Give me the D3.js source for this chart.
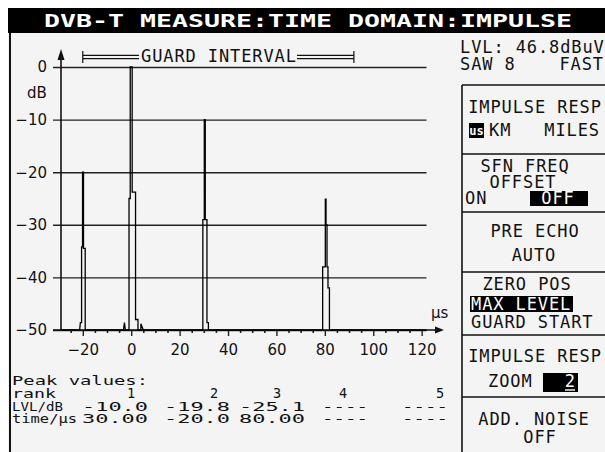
<!DOCTYPE html>
<html>
<head>
<meta charset="utf-8">
<title>DVB-T impulse</title>
<script src="https://d3js.org/d3.v7.min.js"></script>
<style>
  body { margin: 0; background: #fff; }
  svg text { font-family: "DejaVu Sans Mono", monospace; fill: #111; }
</style>
</head>
<body>
<script>
// impulse response trace (time in us, level in dB)
const traceTime = [-29, -21.3, -21.0, -20.5, -20.5, -20.1, -20.1, -19.7, -19.7, -19.0, -19.0,
  -3.2, -2.8, -2.4, -0.9, -0.9, -0.4, -0.4, 0.4, 0.4, 1.8, 1.8, 2.8, 2.8, 4.0, 4.0, 5.0,
  29.6, 29.6, 30.2, 30.2, 30.6, 30.6, 31.3, 31.3, 31.9, 31.9,
  79.1, 79.1, 80.2, 80.2, 80.5, 80.5, 80.9, 80.9, 81.3, 81.3, 81.9, 81.9, 122];
const traceLevel = [-50, -50, -48.6, -48.6, -34.2, -34.2, -20, -20, -34.5, -34.5, -50,
  -50, -48.6, -50, -50, -25, -25, 0, 0, -23.8, -23.8, -48, -48, -50, -50, -48.8, -50,
  -50, -29, -29, -10, -10, -29, -29, -48.6, -48.6, -50,
  -50, -38, -38, -25.1, -25.1, -30, -30, -38, -38, -42, -42, -50, -50];

const yTicks = [0, -10, -20, -30, -40, -50];
const xTicks = [-20, 0, 20, 40, 60, 80, 100, 120];
const xMinorTicks = [-25, -15, -10, -5, 5, 10, 15, 25, 30, 35, 45, 50, 55, 65, 70, 75, 85, 90, 95, 105, 110, 115];
const guardInterval = [-20, 92];

// peak value table
const peakRank = ["1", "2", "3", "4", "5"];
const peakLevel = ["-10.0", "-19.8", "-25.1", "----", "----"];
const peakTime = ["30.00", "-20.0", "80.00", "----", "----"];

const svg = d3.select("body").append("svg")
    .attr("width", 605)
    .attr("height", 452);

svg.append("rect").attr("x", 8).attr("y", 8).attr("width", 597).attr("height", 444).attr("fill", "#f4f4f4");

// title bar
svg.append("rect").attr("x", 8).attr("y", 8).attr("width", 597).attr("height", 25).attr("fill", "#000");
svg.append("text")
    .attr("x", 44).attr("y", 27)
    .attr("textLength", 528)
    .attr("lengthAdjust", "spacingAndGlyphs")
    .style("font-size", "17px")
    .style("font-weight", "bold")
    .style("fill", "#fff")
    .text("DVB-T MEASURE:TIME DOMAIN:IMPULSE");

// left frame line
svg.append("line").attr("x1", 10).attr("x2", 10).attr("y1", 33).attr("y2", 452)
    .attr("stroke", "#111").attr("stroke-width", 2);

// scales
const x = d3.scaleLinear().domain([-29, 122]).range([61, 426.5]);
const y = d3.scaleLinear().domain([-50, 0]).range([330, 67]);

// horizontal grid + y labels
const gy = svg.append("g")
    .attr("transform", "translate(53,0)")
    .call(d3.axisLeft(y).tickValues(yTicks).tickSize(-(x(122) - 53)).tickPadding(6))
    .call(g => g.select(".domain").remove());
gy.selectAll("line").attr("stroke", "#222").attr("stroke-width", 1.4);
gy.selectAll("text").style("font-family", "'DejaVu Sans', sans-serif").style("font-size", "15px");

// x axis major + minor ticks
const gx = svg.append("g")
    .attr("transform", "translate(0,330)")
    .call(d3.axisBottom(x).tickValues(xTicks).tickSize(6).tickPadding(8))
    .call(g => g.select(".domain").remove());
gx.selectAll("line").attr("stroke", "#222").attr("stroke-width", 1.4);
gx.selectAll("text").style("font-family", "'DejaVu Sans', sans-serif").style("font-size", "15px");

const gm = svg.append("g")
    .attr("transform", "translate(0,330)")
    .call(d3.axisBottom(x).tickValues(xMinorTicks).tickSize(3).tickFormat(""))
    .call(g => g.select(".domain").remove());
gm.selectAll("line").attr("stroke", "#222").attr("stroke-width", 1.6);

// axis lines with arrows
svg.append("line").attr("x1", 61).attr("x2", 61).attr("y1", 56).attr("y2", 330)
    .attr("stroke", "#111").attr("stroke-width", 1.6);
svg.append("path").attr("d", "M61,49 L57.5,60 L64.5,60 Z").attr("fill", "#111");
svg.append("line").attr("x1", 53).attr("x2", 438).attr("y1", 330).attr("y2", 330)
    .attr("stroke", "#111").attr("stroke-width", 1.6);
svg.append("path").attr("d", "M444,330 L435,326.5 L435,333.5 Z").attr("fill", "#111");

svg.append("text").attr("x", 27).attr("y", 98)
    .style("font-family", "'DejaVu Sans', sans-serif").style("font-size", "15px").text("dB");
svg.append("text").attr("x", 431).attr("y", 318)
    .style("font-family", "'DejaVu Sans', sans-serif").style("font-size", "15px").text("μs");

// impulse trace
const trace = traceTime.map((t, i) => [t, traceLevel[i]]);
svg.append("path")
    .datum(trace)
    .attr("d", d3.line().x(d => x(d[0])).y(d => y(d[1])))
    .attr("fill", "none")
    .attr("stroke", "#000")
    .attr("stroke-width", 1.3);

// guard interval bracket
const gx0 = x(guardInterval[0]), gx1 = x(guardInterval[1]);
const gi = svg.append("g").attr("stroke", "#111").attr("stroke-width", 1.2);
gi.append("line").attr("x1", gx0).attr("x2", gx0).attr("y1", 51).attr("y2", 63);
gi.append("line").attr("x1", gx1).attr("x2", gx1).attr("y1", 51).attr("y2", 63);
[55.3, 58.7].forEach(yy => {
  gi.append("line").attr("x1", gx0).attr("x2", 139).attr("y1", yy).attr("y2", yy);
  gi.append("line").attr("x1", 297).attr("x2", gx1).attr("y1", yy).attr("y2", yy);
});
svg.append("text").attr("x", 141).attr("y", 62)
    .attr("textLength", 155).attr("lengthAdjust", "spacing")
    .style("font-size", "17px").text("GUARD INTERVAL");

function label(txt, px, py, anchor, inverse) {
  return svg.append("text").attr("x", px).attr("y", py)
      .attr("text-anchor", anchor || "start")
      .style("font-size", "17px")
      .style("letter-spacing", "0.9px")
      .style("fill", inverse ? "#fff" : "#111")
      .text(txt);
}
function block(x0, y0, w, h) {
  svg.append("rect").attr("x", x0).attr("y", y0).attr("width", w).attr("height", h).attr("fill", "#000");
}

// level readout
label("LVL: 46.8dBuV", 460, 53);
label("SAW 8", 460, 70);
label("FAST", 604, 70, "end");

// softkey panel
const panel = svg.append("g").attr("stroke", "#111").attr("stroke-width", 1.6);
panel.append("line").attr("x1", 462).attr("x2", 462).attr("y1", 85).attr("y2", 452);
[85, 154, 212, 272, 335, 397].forEach(yy => {
  panel.append("line").attr("x1", 462).attr("x2", 605).attr("y1", yy).attr("y2", yy);
});

label("IMPULSE RESP", 535, 113, "middle");
block(469, 123, 15, 15);
svg.append("text").attr("x", 476.5).attr("y", 135).attr("text-anchor", "middle")
    .style("font-size", "12px").style("font-weight", "bold").style("fill", "#fff").text("us");
label("KM", 489, 136);
label("MILES", 600, 136, "end");

label("SFN FREQ", 525, 172, "middle");
label("OFFSET", 523, 188, "middle");
label("ON", 465, 204);
block(530, 191, 58, 15);
label("OFF", 558, 204, "middle", true);

label("PRE ECHO", 535, 237, "middle");
label("AUTO", 534, 261, "middle");

label("ZERO POS", 527, 290, "middle");
block(470, 296, 103, 16);
label("MAX LEVEL", 471, 310, "start", true);
label("GUARD START", 471, 328);

label("IMPULSE RESP", 535, 362, "middle");
label("ZOOM", 488, 387);
block(543, 373, 35, 19);
label("2", 576, 387, "end", true);
svg.append("line").attr("x1", 565).attr("x2", 575).attr("y1", 390).attr("y2", 390)
    .attr("stroke", "#fff").attr("stroke-width", 1.4);

label("ADD. NOISE", 534, 425, "middle");
label("OFF", 540, 443, "middle");

// peak values table
function cell(txt, px, py, anchor, len) {
  const t = svg.append("text").attr("x", px).attr("y", py)
      .attr("text-anchor", anchor || "start")
      .style("font-size", "12.5px")
      .text(txt);
  if (len) t.attr("textLength", len).attr("lengthAdjust", "spacingAndGlyphs");
  return t;
}
cell("Peak values:", 12, 385, "start", 136);
cell("rank", 12, 398, "start", 44);
cell("LVL/dB", 12, 410.5, "start", 51);
cell("time/μs", 12, 423, "start", 65);

const rankX = [131, 214, 277, 343, 440];
const colRight = [148, 230, 305, 368, 448];
peakRank.forEach((r, i) => cell(r, rankX[i], 398, "middle").style("font-size", "13.5px"));
peakLevel.forEach((v, i) => cell(v, colRight[i], 410.5, "end", v === "----" ? 46 : 66));
peakTime.forEach((v, i) => cell(v, colRight[i], 423, "end", v === "----" ? 46 : 66));
</script>
</body>
</html>
